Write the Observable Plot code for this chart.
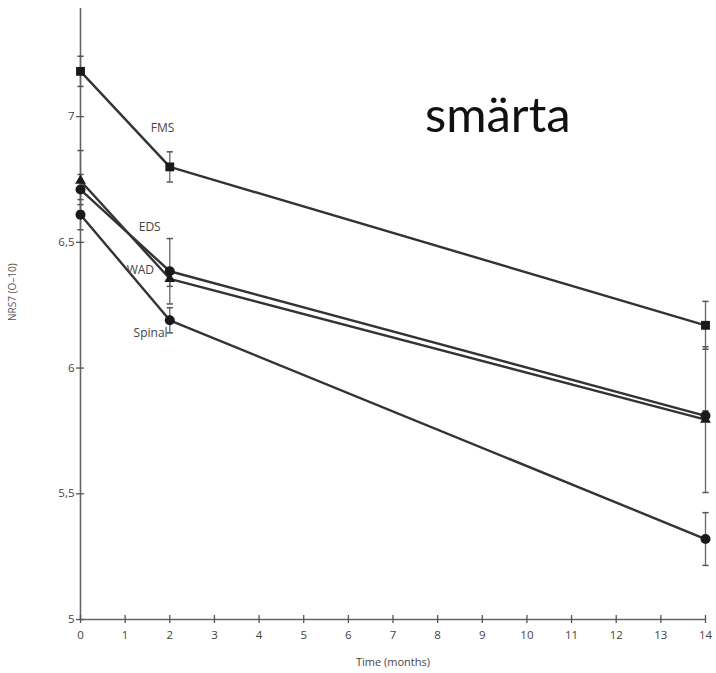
<!DOCTYPE html>
<html>
<head>
<meta charset="utf-8">
<script src="https://cdn.jsdelivr.net/npm/d3@7"></script>
<script src="https://cdn.jsdelivr.net/npm/@observablehq/plot@0.6"></script>
<style>
  html, body { margin: 0; padding: 0; background: #fff; }
  #chart { position: relative; width: 716px; height: 673px; }
  #title { position: absolute; left: 425px; top: 89px; font-family: Lato, sans-serif; font-size: 49px; color: #111; line-height: 1; }
</style>
</head>
<body>
<div id="chart"><div id="title">smärta</div></div>
<script>
const months = [0, 2, 14];
const groups = ["FMS", "EDS", "WAD", "Spinal"];
const fms = [7.18, 6.80, 6.17];
const eds = [6.71, 6.385, 5.81];
const wad = [6.745, 6.355, 5.795];
const spinal = [6.61, 6.19, 5.32];
const fmsErr = [0.06, 0.06, 0.095];
const edsErr = [0.06, 0.13, 0.02];
const wadErr = [0.12, 0.03, 0.29];
const spinalErr = [0.06, 0.05, 0.105];
const symbols = ["square", "circle", "triangle", "circle"];
const labelMonth = [1.84, 1.55, 1.34, 1.57];
const labelValue = [6.955, 6.56, 6.39, 6.14];
const xTicks = d3.range(0, 15);
const yTicks = [5, 5.5, 6, 6.5, 7];

const seriesValues = [fms, eds, wad, spinal];
const seriesErr = [fmsErr, edsErr, wadErr, spinalErr];
const rows = groups.flatMap((g, i) => months.map((m, j) => ({
  group: g, month: m, value: seriesValues[i][j], err: seriesErr[i][j], symbol: symbols[i]
})));
const labels = groups.map((g, i) => ({group: g, month: labelMonth[i], value: labelValue[i]}));

const capSymbol = {
  draw(context, size) {
    const w = Math.sqrt(size) / 2;
    context.moveTo(-w, 0);
    context.lineTo(w, 0);
  }
};

const fontFam = "'Open Sans', sans-serif";
const axisColor = "#666";

const plot = Plot.plot({
  width: 716,
  height: 673,
  marginLeft: 80,
  marginRight: 11,
  marginTop: 8,
  marginBottom: 54,
  style: {fontFamily: fontFam, fontSize: "11px", color: "#555", background: "transparent"},
  x: {domain: [0, 14]},
  y: {domain: [5, 7.43]},
  r: {type: "identity"},
  symbol: {type: "identity"},
  marks: [
    Plot.ruleX([0], {stroke: axisColor, strokeWidth: 1.6}),
    Plot.ruleY([5], {stroke: axisColor, strokeWidth: 1.6}),
    Plot.axisX({ticks: xTicks, tickSize: 8, dy: -4, tickPadding: 7, stroke: "#555", strokeWidth: 1.3, label: null, fontSize: 11.5, fill: "#444"}),
    Plot.axisY({ticks: yTicks, tickSize: 8, dx: 4, tickPadding: 2, stroke: "#555", strokeWidth: 1.3, label: null, fontSize: 11.5, fill: "#444", tickFormat: d => String(d).replace(".", ",")}),
    Plot.text(["Time (months)"], {frameAnchor: "bottom", dy: 46, fontSize: 11, fill: "#444"}),
    Plot.text(["NRS7 (O–10)"], {frameAnchor: "left", dx: -68, dy: 7, rotate: -90, fontSize: 10, fill: "#555"}),
    Plot.ruleX(rows, {x: "month", y1: d => d.value - d.err, y2: d => d.value + d.err, stroke: "#666", strokeWidth: 1.3}),
    Plot.dot(rows, {x: "month", y: d => d.value - d.err, symbol: () => capSymbol, r: 3.5, stroke: "#555", strokeWidth: 1.5, fill: "none"}),
    Plot.dot(rows, {x: "month", y: d => d.value + d.err, symbol: () => capSymbol, r: 3.5, stroke: "#555", strokeWidth: 1.5, fill: "none"}),
    Plot.line(rows, {x: "month", y: "value", z: "group", stroke: "#333", strokeWidth: 2.4}),
    Plot.dot(rows, {x: "month", y: "value", symbol: "symbol", r: d => d.symbol === "triangle" ? 4 : 5, fill: "#1a1a1a", stroke: "none"}),
    Plot.text(labels, {x: "month", y: "value", text: "group", fontSize: 12, fill: "#444"})
  ]
});
document.getElementById("chart").prepend(plot);
plot.style.position = "absolute";
plot.style.left = "0";
plot.style.top = "0";
</script>
</body>
</html>
